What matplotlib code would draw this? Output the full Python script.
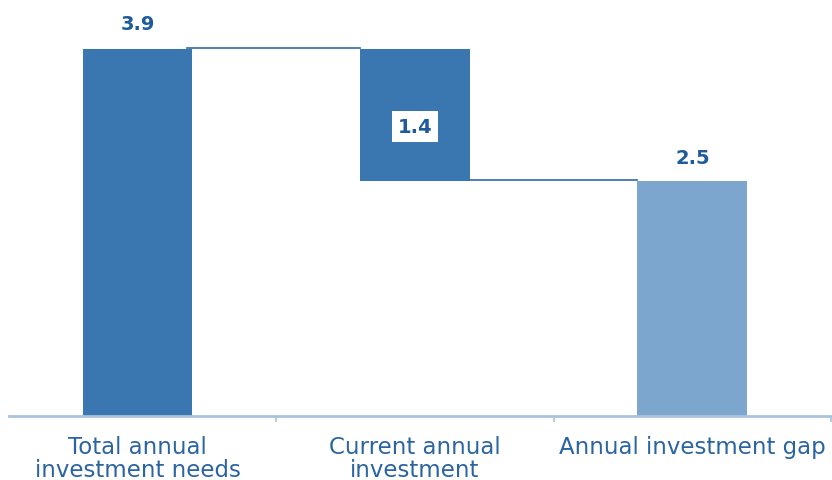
import matplotlib.pyplot as plt

categories = ["Total annual\ninvestment needs", "Current annual\ninvestment", "Annual investment gap"]
values = [3.9, 1.4, 2.5]
labels = ["3.9", "1.4", "2.5"]

dark = "#3a76af"
light = "#7da6ce"
text_blue = "#2b65a1"
axis_blue = "#a9c3dc"

# waterfall: total, drop, remaining gap
bottoms = [0, values[0] - values[1], 0]
colors = [dark, dark, light]
width = 0.396
x = list(range(len(values)))

fig = plt.figure(figsize=(8.32, 4.81), dpi=100)
ax = fig.add_axes([0, 64 / 481, 1, 417 / 481])

ax.bar(x, values, bottom=bottoms, width=width, color=colors, zorder=2)

# connector lines between bars
levels = [values[0], values[0] - values[1]]
for i, lev in enumerate(levels):
    ax.plot([x[i] + width / 2 - 0.02, x[i + 1] - width / 2], [lev + 0.01, lev + 0.01],
            color="#2f6aa5", lw=1.2, zorder=1)

# value labels
ax.annotate(labels[0], (x[0], values[0]), xytext=(0, 18), textcoords="offset points",
            ha="center", va="center", fontsize=14, fontweight="bold", color="#1f5b9a")
ax.annotate(labels[2], (x[2], values[2]), xytext=(0, 17), textcoords="offset points",
            ha="center", va="center", fontsize=14, fontweight="bold", color="#1f5b9a")
ax.text(x[1], bottoms[1] + values[1] * 0.41, labels[1], ha="center", va="center",
        fontsize=14, fontweight="bold", color="#1f5b9a",
        bbox=dict(boxstyle="square,pad=0.3", fc="white", ec="none"), zorder=3)

ax.set_xlim(-0.4955, 2.503)
ax.set_ylim(0, 4.43)

for s in ["top", "right", "left"]:
    ax.spines[s].set_visible(False)
ax.spines["bottom"].set_color(axis_blue)
ax.spines["bottom"].set_linewidth(2)
ax.spines["bottom"].set_bounds(-0.463, 2.503)

ax.set_yticks([])
ax.set_xticks(x)
ax.set_xticklabels(categories, fontsize=16.5, color=text_blue, linespacing=1.0)
ax.tick_params(axis="x", which="major", length=0, pad=13.5)
ax.set_xticks([0.5, 1.5, 2.5], minor=True)
ax.tick_params(axis="x", which="minor", length=4.5, width=1.2, color=axis_blue)

fig.savefig("out.png", dpi=100)
